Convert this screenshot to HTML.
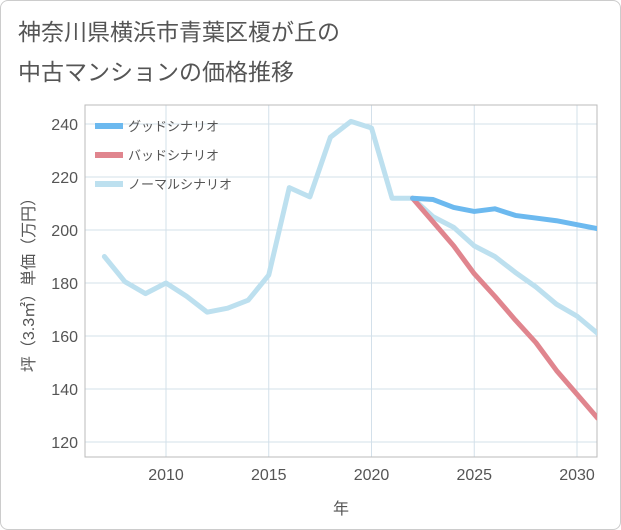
<!DOCTYPE html>
<html><head><meta charset="utf-8"><style>
body{margin:0;background:#fff;}
#wrap{position:relative;width:619px;height:528px;border:1px solid #ccc;border-radius:8px;background:#fff;font-family:"Liberation Sans","Noto Sans CJK JP",sans-serif;overflow:hidden}
#title{position:absolute;left:17px;top:11px;font-size:23px;line-height:40px;color:#555;}
svg text{font-family:"Liberation Sans","Noto Sans CJK JP",sans-serif;}
</style></head><body>
<div id="wrap">
<div id="title">神奈川県横浜市青葉区榎が丘の<br>中古マンションの価格推移</div>
<svg id="c" width="621" height="530" style="position:absolute;left:-1px;top:-1px"><defs><clipPath id="clip"><rect x="85" y="105" width="512" height="352"/></clipPath></defs></svg>
</div>
<script>
const years=[2007,2008,2009,2010,2011,2012,2013,2014,2015,2016,2017,2018,2019,2020,2021,2022,2023,2024,2025,2026,2027,2028,2029,2030,2031];
const normal=[190,180.5,176,180,175,169,170.5,173.5,183,216,212.5,235,241,238.5,212,212,205,201,194,190,184,178.5,172,167.5,161];
const goodYears=[2022,2023,2024,2025,2026,2027,2028,2029,2030,2031];
const good=[212,211.5,208.5,207,208,205.5,204.5,203.5,202,200.5];
const bad=[212,203,194,183.5,175,166,157.5,147,138,129];
const xTicks=[2010,2015,2020,2025,2030];
const yTicks=[120,140,160,180,200,220,240];
const svg=document.getElementById('c');const NS='http://www.w3.org/2000/svg';
const L=85,R=597,T=105,B=457;
const x=v=>166+(v-2010)*20.55;
const y=v=>442-(v-120)*2.65;
function mk(t,a,p){const e=document.createElementNS(NS,t);for(const k in a)e.setAttribute(k,a[k]);(p||svg).appendChild(e);return e;}
xTicks.forEach(t=>{const l=mk('line',{x1:x(t),x2:x(t),y1:T,y2:B,stroke:'#d3e0ea'});


const tx=mk('text',{x:x(t),y:480,'text-anchor':'middle','font-size':16,fill:'#555'});tx.textContent=t;

});
yTicks.forEach(t=>{const l=mk('line',{x1:L,x2:R,y1:y(t),y2:y(t),stroke:'#d3e0ea'});


const tx=mk('text',{x:78,y:y(t)+6,'text-anchor':'end','font-size':16,fill:'#555'});tx.textContent=t;

});
const fr=mk('rect',{x:L,y:T,width:R-L,height:B-T,fill:'none',stroke:'#bbb'});


function line(xs,vs,c,name){const p=mk('polyline',{points:xs.map((a,i)=>x(a)+','+y(vs[i])).join(' '),fill:'none',stroke:c,'stroke-width':5,'stroke-linejoin':'round','stroke-linecap':'round','clip-path':'url(#clip)'});

}
line(years,normal,'#bde0ef','normal-scenario-line');
line(goodYears,bad,'#e0858e','bad-scenario-line');
line(goodYears,good,'#6cb9ef','good-scenario-line');
const lg=[['グッドシナリオ','#6cb9ef','legend-good'],['バッドシナリオ','#e0858e','legend-bad'],['ノーマルシナリオ','#bde0ef','legend-normal']];
lg.forEach((d,i)=>{const g=mk('g',{});


mk('line',{x1:95,x2:123,y1:126+i*29,y2:126+i*29,stroke:d[1],'stroke-width':6},g);
const t=mk('text',{x:128,y:131+i*29,'font-size':13,fill:'#555'},g);t.textContent=d[0];});
const xt=mk('text',{x:341,y:514,'text-anchor':'middle','font-size':16,fill:'#555'});xt.textContent='年';


const yt=mk('text',{x:0,y:0,'text-anchor':'middle','font-size':16,fill:'#555',transform:'translate(34,281) rotate(-90)'});yt.textContent='坪（3.3㎡）単価（万円）';


</script>
</body></html>
